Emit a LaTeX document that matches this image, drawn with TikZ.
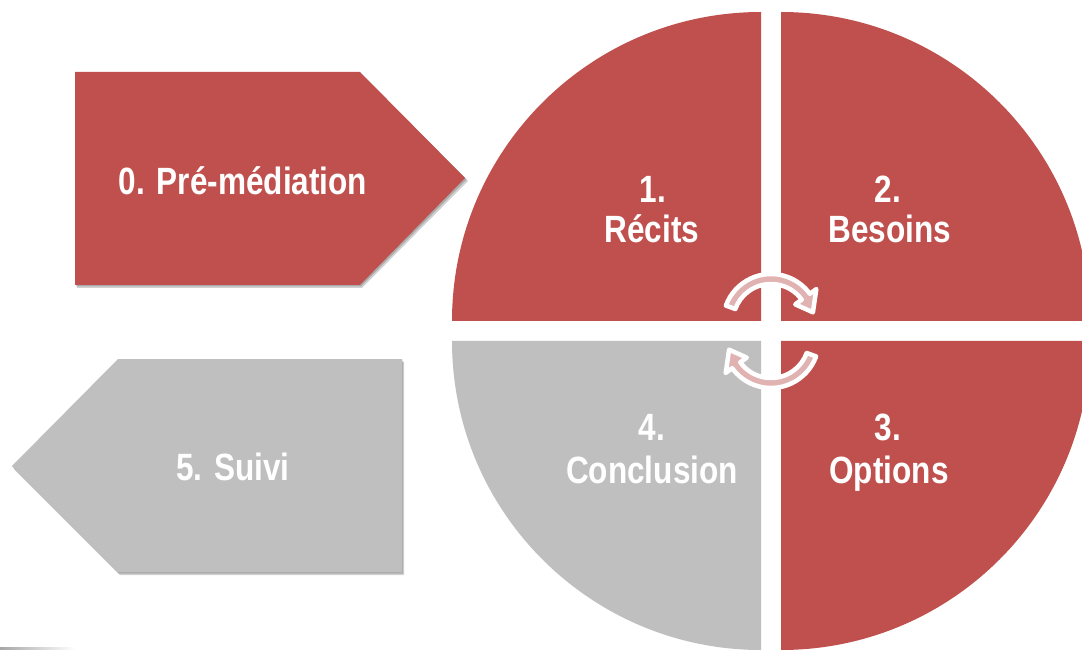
\documentclass[tikz,border=0pt]{standalone}
\usepackage{fontspec}
\setmainfont[FakeStretch=0.83, BoldFont={Liberation Sans Bold}]{Liberation Sans}
\definecolor{accred}{HTML}{C0504D}
\definecolor{accgray}{HTML}{BFBFBF}
\definecolor{arrowpink}{HTML}{E0B2B1}
\tikzset{
  redfill/.style={fill=accred},
  grayfill/.style={fill=accgray},
  shadowfill/.style={fill=black, opacity=0.18},
  lbl/.style={text=white, font=\fontsize{38}{40}\selectfont\bfseries, anchor=base, inner sep=0pt},
  cyclearrow/.style={fill=arrowpink, draw=white, line width=4.5pt, line join=round},
}
\begin{document}
\begin{tikzpicture}[x=1pt,y=1pt]
\useasboundingbox (0,0) rectangle (1082,649);
\clip (0,0) rectangle (1082,649);
\fill[white] (0,0) rectangle (1082,649);

% faint line bottom-left
\shade[left color=gray!70, right color=white] (0,0) rectangle (75,2);

% quarters
\fill[redfill] (761,328) -- (452,328) arc[start angle=180, end angle=90, radius=309pt] -- cycle;
\fill[redfill] (781,328) -- (781,637) arc[start angle=90, end angle=0, radius=309pt] -- cycle;
\fill[grayfill] (761,308) -- (452,308) arc[start angle=180, end angle=270, radius=309pt] -- cycle;
\fill[redfill] (781,308) -- (1090,308) arc[start angle=0, end angle=-90, radius=309pt] -- cycle;

% pentagon 0 shadow + shape
\fill[shadowfill] (77,574) -- (362,574) -- (468,468) -- (362,361) -- (77,361) -- cycle;
\fill[shadowfill] (76,575.5) -- (361,575.5) -- (466.5,469.5) -- (361,362.5) -- (76,362.5) -- cycle;
\fill[redfill] (75,577) -- (360,577) -- (465,471) -- (360,364) -- (75,364) -- cycle;

% pentagon 5 shadow + shape
\fill[shadowfill] (404,287) -- (120,287) -- (14,180) -- (120,74) -- (404,74) -- cycle;
\fill[shadowfill] (403,288.5) -- (119,288.5) -- (13,181.5) -- (119,75.5) -- (403,75.5) -- cycle;
\fill[grayfill] (402,290) -- (118,290) -- (12,183) -- (118,77) -- (402,77) -- cycle;

% cycle arrows
\coordinate (ct) at (771,327);
\coordinate (cb) at (771,309);
\draw[cyclearrow] ([shift={(160:48pt)}]ct) arc[start angle=160, end angle=36, radius=48pt]
  -- ([shift={(36:56pt)}]ct) -- ([shift={(13:43pt)}]ct) -- ([shift={(36:30pt)}]ct)
  -- ([shift={(36:38pt)}]ct) arc[start angle=36, end angle=160, radius=38pt] -- cycle;
\draw[cyclearrow] ([shift={(340:48pt)}]cb) arc[start angle=340, end angle=216, radius=48pt]
  -- ([shift={(216:56pt)}]cb) -- ([shift={(193:43pt)}]cb) -- ([shift={(216:30pt)}]cb)
  -- ([shift={(216:38pt)}]cb) arc[start angle=216, end angle=340, radius=38pt] -- cycle;

% labels
\node[lbl] (p0) at (243,454) {0. Pré-médiation};
\node[lbl] (p5) at (233,169) {5. Suivi};
\node[lbl] (n1) at (653,446) {1.};
\node[lbl] (t1) at (652,406) {Récits};
\node[lbl] (n2) at (888,446) {2.};
\node[lbl] (t2) at (890,406) {Besoins};
\node[lbl] (n4) at (652,209) {4.};
\node[lbl] (t4) at (652,166) {Conclusion};
\node[lbl] (n3) at (888,209) {3.};
\node[lbl] (t3) at (889,166) {Options};
\end{tikzpicture}
\end{document}
